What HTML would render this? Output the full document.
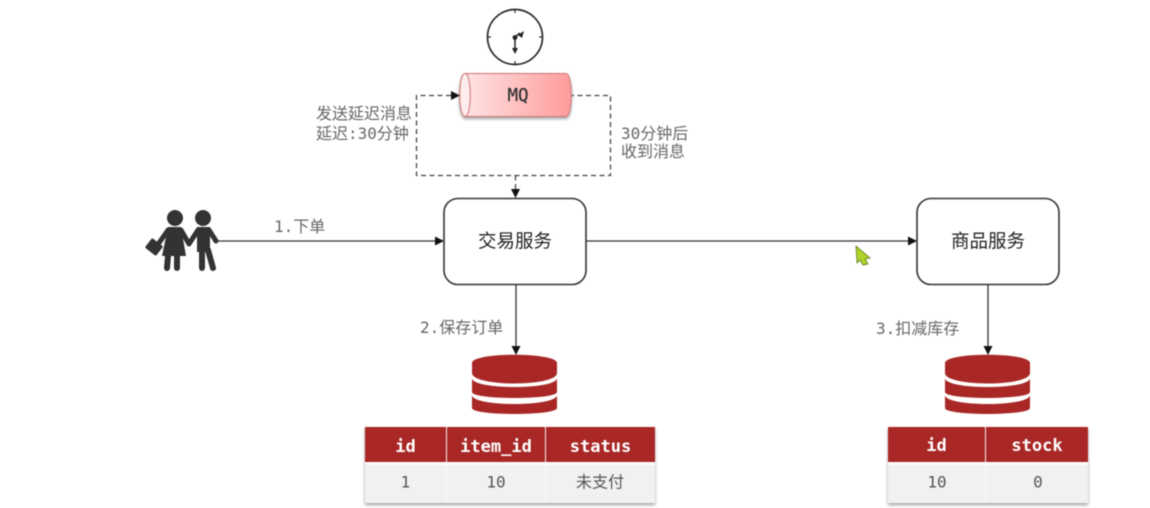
<!DOCTYPE html>
<html><head><meta charset="utf-8"><style>
html,body{margin:0;padding:0;background:#fff;width:1150px;height:508px;overflow:hidden}
svg{display:block;filter:blur(.45px)}
.m{font-family:"DejaVu Sans Mono","Liberation Mono","Noto Sans CJK SC",monospace}
.l{font-size:16px;fill:#666}
.s{font-family:"Liberation Sans","Noto Sans CJK SC",sans-serif;font-size:18.500px;fill:#222}
.h{font-family:"DejaVu Sans Mono","Liberation Mono",monospace;font-size:17px;font-weight:bold;fill:#fff}
.c{font-size:16px;fill:#555}
</style></head><body>
<svg width="1150" height="508" viewBox="0 0 1150 508" xmlns="http://www.w3.org/2000/svg">
<defs>
<linearGradient id="g" x1="0" x2="1" y1="0" y2="0"><stop offset="0" stop-color="#ffe6e6"/><stop offset="1" stop-color="#ff9c9c"/></linearGradient>
<filter id="sh" x="-5%" y="-5%" width="110%" height="115%"><feDropShadow dx="0" dy="2" stdDeviation="1.5" flood-color="#555" flood-opacity=".55"/></filter>
<g id="db" fill="#a92826">
<path d="M0 8C0 -3 85 -3 85 8V18C85 32 0 32 0 18Z"/>
<path d="M0 23C0 35 85 35 85 23V37C85 45 0 45 0 37Z"/>
<path d="M0 40C0 52 85 52 85 40V53C85 61 0 61 0 53Z"/>
</g>
</defs>

<!-- clock -->
<circle cx="515" cy="37" r="27.500" fill="#fff" stroke="#2a2a2a" stroke-width="1.700"/>
<path d="M515 10v3M515 61v3M488 37h3M539 37h3" stroke="#333" stroke-width="1.200"/>
<circle cx="515" cy="37.500" r="2.400" fill="#222"/>
<path d="M515 37v12M515 37l5-4" stroke="#222" stroke-width="1.500"/>
<path d="M512 48h6l-3 6zM518 35l6-4-2 7z" fill="#222"/>

<!-- MQ -->
<g filter="url(#sh)">
<path d="M465 73.500H566C573 73.500 573 116.500 566 116.500H465C458 116.500 458 73.500 465 73.500Z" fill="url(#g)" stroke="#c77" stroke-width="1"/>
</g>
<path d="M465 73.500C472 73.500 472 116.500 465 116.500C458 116.500 458 73.500 465 73.500Z" fill="#ffecec" stroke="#c77" stroke-width="1"/>
<text x="518" y="101" text-anchor="middle" class="m" font-size="17.500" fill="#333" stroke="#333" stroke-width=".3">MQ</text>

<!-- dashed -->
<path d="M451 95.500H416.500V175.500H610.500V95.500H572M515.500 175.500V190" fill="none" stroke="#444" stroke-width="1.300" stroke-dasharray="5 3.500"/>
<path d="M451 91l9 4.500-9 4.500zM511 189h9l-4.500 9z" fill="#111"/>

<text class="m l" x="316" y="119">发送延迟消息</text>
<text class="m l" x="316" y="139">延迟:30分钟</text>
<text class="m l" x="621" y="139">30分钟后</text>
<text class="m l" x="621" y="157">收到消息</text>

<!-- people -->
<g fill="#333" stroke="none">
<circle cx="175" cy="218" r="8"/><circle cx="203" cy="218" r="8"/>
<path d="M168 227H181L186 256H162Z"/>
<path d="M197 227H210V252H197Z"/>
<rect x="147" y="241" width="14" height="12" rx="1.500" transform="rotate(38 154 247)"/>
</g>
<g fill="none" stroke="#333" stroke-linecap="round">
<path d="M168 230L159 243M181 230L189 244M198 230L189 244M209 230L216 241" stroke-width="5"/>
<path d="M168 256L167 268M177 256L177 268M202 250L202 268M208 250L213 268" stroke-width="6"/>
</g>

<!-- connectors -->
<path d="M218 241H436M586 241H909M516 284V347M988 285V347" fill="none" stroke="#333" stroke-width="1.300"/>
<path d="M435 236.500l9 4.500-9 4.500zM908 236.500l9 4.500-9 4.500zM511.500 346h9l-4.500 9zM983.500 346h9l-4.500 9z" fill="#111"/>
<text class="m l" x="274" y="232">1.下单</text>
<text class="m l" x="420" y="333">2.保存订单</text>
<text class="m l" x="876" y="334">3.扣减库存</text>

<!-- service boxes -->
<rect x="444" y="198.500" width="142" height="86" rx="14" fill="#fff" stroke="#333" stroke-width="1.600"/>
<rect x="917" y="198.500" width="142" height="86" rx="14" fill="#fff" stroke="#333" stroke-width="1.600"/>
<text class="s" x="515" y="247.500" text-anchor="middle">交易服务</text>
<text class="s" x="988" y="247.500" text-anchor="middle">商品服务</text>

<!-- cursor -->
<path d="M856 246L870 258L865 259L868 264L863 265L860 260L857 263Z" fill="#b0d22a" stroke="#5b7a1a" stroke-width=".8"/>

<!-- DBs -->
<use href="#db" x="472" y="355"/>
<use href="#db" x="945" y="355"/>

<!-- table 1 -->
<rect x="365" y="427" width="290" height="76" fill="#f1f1f1" filter="url(#sh)"/>
<rect x="365" y="462" width="290" height="3" fill="#fbfbfb"/>
<rect x="365" y="427" width="81" height="35" fill="#a92826"/>
<rect x="447" y="427" width="98" height="35" fill="#a92826"/>
<rect x="546" y="427" width="109" height="35" fill="#a92826"/>
<path d="M446.500 465V503M545.500 465V503" stroke="#fbfbfb"/>
<text class="h" x="405.500" y="452" text-anchor="middle">id</text>
<text class="h" x="496" y="452" text-anchor="middle">item_id</text>
<text class="h" x="600.500" y="452" text-anchor="middle">status</text>
<text class="m c" x="405.500" y="487.500" text-anchor="middle">1</text>
<text class="m c" x="496" y="487.500" text-anchor="middle">10</text>
<text class="m c" x="600" y="487.500" text-anchor="middle">未支付</text>

<!-- table 2 -->
<rect x="888" y="427" width="200" height="76" fill="#f1f1f1" filter="url(#sh)"/>
<rect x="888" y="462" width="200" height="3" fill="#fbfbfb"/>
<rect x="888" y="427" width="97" height="35" fill="#a92826"/>
<rect x="986" y="427" width="102" height="35" fill="#a92826"/>
<path d="M985.500 465V503" stroke="#fbfbfb"/>
<text class="h" x="936.500" y="451" text-anchor="middle">id</text>
<text class="h" x="1037" y="451" text-anchor="middle">stock</text>
<text class="m c" x="937" y="487.500" text-anchor="middle">10</text>
<text class="m c" x="1038" y="487.500" text-anchor="middle">0</text>
</svg>
</body></html>
